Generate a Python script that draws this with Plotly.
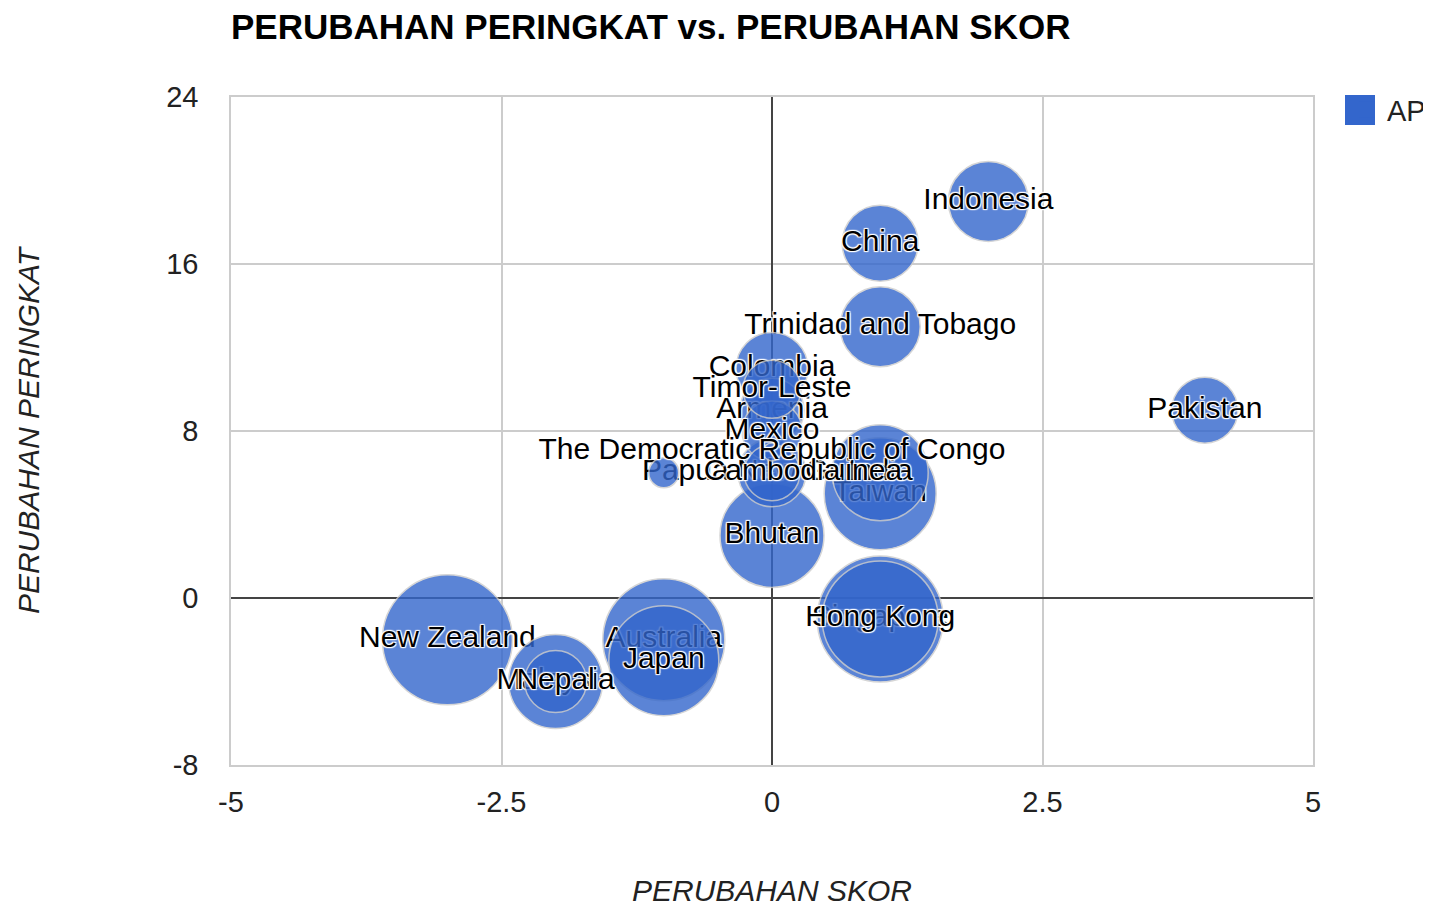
import plotly.graph_objects as go

# ---- data ----
countries = [
    "New Zealand", "Singapore", "Australia", "Hong Kong", "Taiwan", "Japan",
    "Bhutan", "India", "Malaysia", "Indonesia", "Trinidad and Tobago", "China",
    "Colombia", "Papua New Guinea", "Pakistan", "Armenia", "Nepal", "Mexico",
    "Timor-Leste", "Cambodia", "Guinea", "The Democratic Republic of Congo",
]
score_change = [-3, 1, -1, 1, 1, -1, 0, 1, -2, 2, 1, 1, 0, 0, 4, 0, -2, 0, 0, 0, -1, 0]
rank_change = [-2, -1, -2, -1, 5, -3, 3, 6, -4, 19, 13, 17, 11, 6, 9, 9, -4, 8, 10, 6, 6, 7]
bubble_value = [13.0, 12.6, 12.2, 11.6, 11.2, 11.0, 10.4, 9.6, 9.4, 8.0, 8.0, 7.6,
                7.2, 6.8, 6.6, 6.4, 6.2, 6.0, 5.8, 5.6, 3.0, 1.8]
show_label = [True] * 20 + [False, True]
series_name = "AP"
x_ticks = [-5, -2.5, 0, 2.5, 5]
x_tick_text = ["-5", "-2.5", "0", "2.5", "5"]
y_ticks = [-8, 0, 8, 16, 24]
y_tick_text = ["-8", "0", "8", "16", "24"]

BLUE = "#3366cc"
FONT = "Arial, 'Liberation Sans', sans-serif"
HALO = ("-1px -1px 1px #fff, 1px -1px 1px #fff, -1px 1px 1px #fff, "
        "1px 1px 1px #fff, 0 0 2px #fff")

W, H = 1423, 899
L, R, T, B = 223, 118, 89, 142
PW, PH = W - L - R, H - T - B

fig = go.Figure()

# Google-style drawing order: larger bubbles first, each with its own label
for i, name in enumerate(countries):
    fig.add_trace(go.Scatter(
        x=[score_change[i]], y=[rank_change[i]],
        mode="markers+text",
        text=[name if show_label[i] else ""],
        textposition="middle center",
        textfont=dict(family=FONT, size=30, color="#000", shadow=HALO),
        marker=dict(size=[bubble_value[i]], sizemode="diameter", sizeref=0.1,
                    color=BLUE, opacity=0.8, line=dict(color="#cccccc", width=1.5)),
        name=series_name, legendgroup=series_name,
        showlegend=False,
        hovertext=[name], hoverinfo="text+x+y",
    ))

# legend entry
fig.add_trace(go.Scatter(
    x=[None], y=[None], mode="markers", name=series_name,
    marker=dict(symbol="square", size=16, color=BLUE),
    showlegend=True, legendgroup=series_name,
))

# enlarged legend key square (Google-style 30px key)
def px_x(px):
    return (px - L) / PW

def px_y(py):
    return (H - B - py) / PH

fig.add_shape(type="rect", xref="paper", yref="paper",
              x0=px_x(1337), x1=px_x(1367), y0=px_y(117), y1=px_y(87),
              fillcolor=BLUE, line=dict(width=0), layer="above")

fig.update_layout(
    width=W, height=H,
    margin=dict(l=L, r=R, t=T, b=B, autoexpand=False),
    paper_bgcolor="white", plot_bgcolor="white",
    font=dict(family=FONT, size=29, color="#222"),
    title=dict(text="<b>PERUBAHAN PERINGKAT vs. PERUBAHAN SKOR</b>",
               font=dict(family=FONT, size=35, color="#000"),
               x=L / W, xanchor="left", xref="container",
               y=1 - 19 / H, yanchor="middle"),
    showlegend=True,
    legend=dict(x=px_x(1339), y=px_y(102), xanchor="left", yanchor="middle",
                font=dict(size=29, color="#222"),
                bgcolor="rgba(0,0,0,0)"),
    xaxis=dict(range=[-5, 5], tickvals=x_ticks, ticktext=x_tick_text,
               showgrid=True, gridcolor="#cccccc", gridwidth=1.5,
               zeroline=True, zerolinecolor="#444", zerolinewidth=2,
               showline=True, linecolor="#cccccc", linewidth=1.5, mirror=True,
               ticks="", ticklabelstandoff=10,
               tickfont=dict(size=29, color="#222"),
               title=dict(text="PERUBAHAN SKOR", standoff=64,
                          font=dict(size=30, style="italic", color="#222"))),
    yaxis=dict(range=[-8, 24], tickvals=y_ticks, ticktext=y_tick_text,
               showgrid=True, gridcolor="#cccccc", gridwidth=1.5,
               zeroline=True, zerolinecolor="#444", zerolinewidth=2,
               showline=True, linecolor="#cccccc", linewidth=1.5, mirror=True,
               ticks="", ticklabelstandoff=25,
               tickfont=dict(size=29, color="#222"),
               title=dict(text="PERUBAHAN PERINGKAT", standoff=118,
                          font=dict(size=30, style="italic", color="#222"))),
)

fig.write_html("out.html")
